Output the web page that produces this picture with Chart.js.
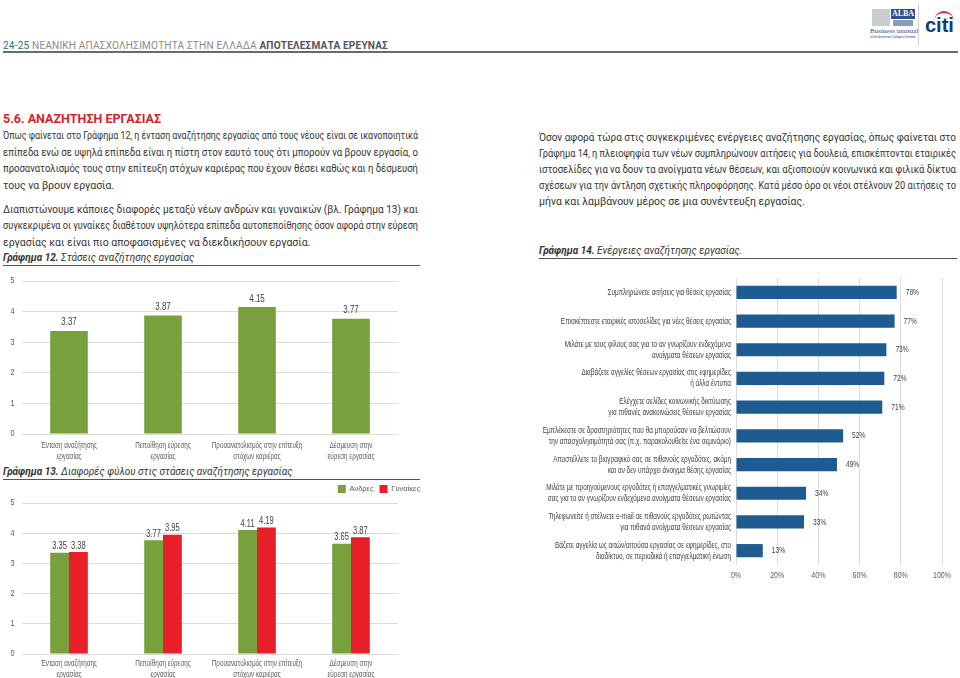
<!DOCTYPE html>
<html>
<head>
<meta charset="utf-8">
<script src="https://cdn.jsdelivr.net/npm/chart.js@4.4.1/dist/chart.umd.min.js"></script>
<style>
  html, body { margin: 0; padding: 0; background: #fff; }
  body { width: 960px; height: 678px; position: relative; overflow: hidden; }
  .t { position: absolute; white-space: nowrap; font-family: Roboto, "Noto Sans", sans-serif; font-size: 10.5px; line-height: 12px; color: #333; transform-origin: 0 50%; }
  .cap { font-style: italic; color: #333; }
  .cap b { font-weight: 700; }
  .rule { position: absolute; height: 1px; background: #555; }
  canvas { position: absolute; }
</style>
</head>
<body>

<!-- header -->
<div class="t" data-w="385" style="left:3px; top:39px; font-size:11px; line-height:14px; color:#8a8a8a; letter-spacing:0.2px;"><span style="color:#2d6b8a">24-25</span> ΝΕΑΝΙΚΗ ΑΠΑΣΧΟΛΗΣΙΜΟΤΗΤΑ ΣΤΗΝ ΕΛΛΑΔΑ <span style="color:#555; font-weight:700">ΑΠΟΤΕΛΕΣΜΑΤΑ ΕΡΕΥΝΑΣ</span></div>
<div class="rule" style="left:3px; top:51px; width:955px; height:1.5px; background:#6a6a6a;"></div>

<!-- logos -->
<div style="position:absolute; left:872px; top:9px; width:18px; height:17px; background:#c9ccd2;"></div>
<div style="position:absolute; left:891px; top:9px; width:24px; height:10px; background:#2f4f8f; color:#fff; font:bold 8px 'Liberation Serif'; text-align:center; line-height:10px;">ALBA</div>
<div style="position:absolute; left:893px; top:20px; width:20px; height:6px; background:#8d9bb8;"></div>
<div class="t" style="left:870px; top:27px; font-size:7px; line-height:8px; color:#2f4f8f; font-family:'Liberation Serif';">Business unusual</div>
<div class="t" style="left:870px; top:35px; font-size:3px; line-height:4px; color:#2f4f8f;">at the American College of Greece</div>
<div style="position:absolute; left:918px; top:4px; width:1px; height:42px; background:#cfcfcf;"></div>
<div style="position:absolute; left:934px; top:11px; width:20px; height:10px; border-top:2px solid #d7282f; border-radius:12px 12px 0 0; box-sizing:border-box;"></div>
<div class="t" style="left:925px; top:14px; font-size:20px; line-height:22px; color:#0f3d7a; font-weight:700; font-family:'Liberation Sans';">citi</div>

<!-- left column text -->
<div class="t" style="left:3px; top:112px; font-size:12.5px; line-height:14px; color:#d5232e; font-weight:700;">5.6. ΑΝΑΖΗΤΗΣΗ ΕΡΓΑΣΙΑΣ</div>
<div class="t j" data-w="415" style="left:3px; top:130px;">Όπως φαίνεται στο Γράφημα 12, η ένταση αναζήτησης εργασίας από τους νέους είναι σε ικανοποιητικά</div>
<div class="t j" data-w="415" style="left:3px; top:146.5px;">επίπεδα ενώ σε υψηλά επίπεδα είναι η πίστη στον εαυτό τους ότι μπορούν να βρουν εργασία, ο</div>
<div class="t j" data-w="415" style="left:3px; top:163px;">προσανατολισμός τους στην επίτευξη στόχων καριέρας που έχουν θέσει καθώς και η δέσμευσή</div>
<div class="t" data-w="415" style="left:3px; top:179.5px;">τους να βρουν εργασία.</div>

<div class="t j" data-w="415" style="left:3px; top:203.5px;">Διαπιστώνουμε κάποιες διαφορές μεταξύ νέων ανδρών και γυναικών (βλ. Γράφημα 13) και</div>
<div class="t j" data-w="415" style="left:3px; top:220px;">συγκεκριμένα οι γυναίκες διαθέτουν υψηλότερα επίπεδα αυτοπεποίθησης όσον αφορά στην εύρεση</div>
<div class="t" data-w="415" style="left:3px; top:236.5px;">εργασίας και είναι πιο αποφασισμένες να διεκδικήσουν εργασία.</div>

<div class="t cap" style="left:3px; top:252px; font-size:10px;"><b>Γράφημα 12.</b> Στάσεις αναζήτησης εργασίας</div>
<div class="rule" style="left:3px; top:265px; width:417px;"></div>

<div class="t cap" style="left:3px; top:466px; font-size:10px;"><b>Γράφημα 13.</b> Διαφορές φύλου στις στάσεις αναζήτησης εργασίας</div>
<div class="rule" style="left:3px; top:479px; width:417px;"></div>

<!-- right column text -->
<div class="t j" data-w="417" style="left:539px; top:131.5px;">Όσον αφορά τώρα στις συγκεκριμένες ενέργειες αναζήτησης εργασίας, όπως φαίνεται στο</div>
<div class="t j" data-w="417" style="left:539px; top:148px;">Γράφημα 14, η πλειοψηφία των νέων συμπληρώνουν αιτήσεις για δουλειά, επισκέπτονται εταιρικές</div>
<div class="t j" data-w="417" style="left:539px; top:164px;">ιστοσελίδες για να δουν τα ανοίγματα νέων θέσεων, και αξιοποιούν κοινωνικά και φιλικά δίκτυα</div>
<div class="t j" data-w="417" style="left:539px; top:180px;">σχέσεων για την άντληση σχετικής πληροφόρησης. Κατά μέσο όρο οι νέοι στέλνουν 20 αιτήσεις το</div>
<div class="t" data-w="417" style="left:539px; top:196px;">μήνα και λαμβάνουν μέρος σε μια συνέντευξη εργασίας.</div>

<div class="t cap" style="left:539px; top:245px; font-size:10px;"><b>Γράφημα 14.</b> Ενέργειες αναζήτησης εργασίας.</div>
<div class="rule" style="left:539px; top:258px; width:418px;"></div>

<canvas id="chart12" width="420" height="194" style="left:0px; top:270px;"></canvas>
<canvas id="chart13" width="426" height="200" style="left:0px; top:478px;"></canvas>
<canvas id="chart14" width="430" height="315" style="left:530px; top:268px;"></canvas>

<script>
// --- data ---
const attitudeLabels = [
  ['Ένταση αναζήτησης', 'εργασίας'],
  ['Πεποίθηση εύρεσης', 'εργασίας'],
  ['Προσανατολισμός στην επίτευξη', 'στόχων καριέρας'],
  ['Δέσμευση στην', 'εύρεση εργασίας']
];
const overallScores = [3.37, 3.87, 4.15, 3.77];
const menScores = [3.35, 3.77, 4.11, 3.65];
const womenScores = [3.38, 3.95, 4.19, 3.87];
const genderNames = ['Ανδρες', 'Γυναίκες'];

const actionLabels = [
  'Συμπληρώνετε αιτήσεις για θέσεις εργασίας',
  'Επισκέπτεστε εταιρικές ιστοσελίδες για νέες θέσεις εργασίας',
  ['Μιλάτε με τους φίλους σας για το αν γνωρίζουν ενδεχόμενα', 'ανοίγματα θέσεων εργασίας'],
  ['Διαβάζετε αγγελίες θέσεων εργασίας στις εφημερίδες', 'ή άλλα έντυπα'],
  ['Ελέγχετε σελίδες κοινωνικής δικτύωσης', 'για πιθανές ανακοινώσεις θέσεων εργασίας'],
  ['Εμπλέκεστε σε δραστηριότητες που θα μπορούσαν να βελτιώσουν', 'την απασχολησιμότητά σας (π.χ. παρακολουθείτε ένα σεμινάριο)'],
  ['Αποστέλλετε το βιογραφικό σας σε πιθανούς εργοδότες, ακόμη', 'και αν δεν υπάρχει άνοιγμα θέσης εργασίας'],
  ['Μιλάτε με προηγούμενους εργοδότες ή επαγγελματικές γνωριμίες', 'σας για το αν γνωρίζουν ενδεχόμενα ανοίγματα θέσεων εργασίας'],
  ['Τηλεφωνείτε ή στέλνετε e-mail σε πιθανούς εργοδότες ρωτώντας', 'για πιθανά ανοίγματα θέσεων εργασίας'],
  ['Βάζετε αγγελία ως αιτών/αιτούσα εργασίας σε εφημερίδες, στο', 'διαδίκτυο, σε περιοδικά ή επαγγελματική ένωση']
];
const actionShares = [78, 77, 73, 72, 71, 52, 49, 34, 33, 13];

const GREEN = '#78a03c';
const RED = '#e81e28';
const BLUE = '#1d5b91';
const FONT = '"Liberation Sans", Arial, sans-serif';

// fit text lines to their column width
document.querySelectorAll('.t[data-w]').forEach(el => {
  const W = +el.dataset.w;
  const w = el.getBoundingClientRect().width;
  if (w > W) {
    el.style.transform = 'scaleX(' + (W / w) + ')';
  } else if (el.classList.contains('j')) {
    const n = (el.textContent.match(/ /g) || []).length;
    if (n) el.style.wordSpacing = ((W - w) / n) + 'px';
  }
});

// the chart text in the original is a narrow face: draw it squeezed
function squeezedText(ctx, txt, x, y, sx) {
  ctx.save();
  ctx.translate(x, y);
  ctx.scale(sx, 1);
  ctx.fillText(txt, 0, 0);
  ctx.restore();
}

// axis labels, placed with the library's own tick pixels
function squeezeTicks(axes) {
  return {
    id: 'squeezeTicks',
    afterDraw(chart) {
      const ctx = chart.ctx;
      ctx.save();
      axes.forEach(o => {
        const scale = chart.scales[o.id];
        ctx.font = o.size + 'px ' + FONT;
        ctx.fillStyle = o.color;
        ctx.textBaseline = 'middle';
        scale.ticks.forEach((tick, i) => {
          const lines = [].concat(tick.label);
          const p = scale.getPixelForTick(i);
          lines.forEach((ln, k) => {
            if (scale.isHorizontal()) {
              ctx.textAlign = 'center';
              squeezedText(ctx, ln, p, scale.top + o.pad + k * o.lh, o.sx);
            } else {
              ctx.textAlign = 'right';
              squeezedText(ctx, ln, scale.right - o.pad, p + (k - (lines.length - 1) / 2) * o.lh, o.sx);
            }
          });
        });
      });
      ctx.restore();
    }
  };
}

// value labels drawn from the bar elements
const valueLabels = {
  id: 'valueLabels',
  afterDatasetsDraw(chart, args, opts) {
    const ctx = chart.ctx;
    ctx.save();
    ctx.font = opts.font;
    ctx.fillStyle = opts.color;
    chart.data.datasets.forEach((ds, i) => {
      chart.getDatasetMeta(i).data.forEach((bar, j) => {
        const v = ds.data[j];
        if (chart.options.indexAxis === 'y') {
          ctx.textAlign = 'left';
          ctx.textBaseline = 'middle';
          squeezedText(ctx, v + '%', bar.x + opts.offset, bar.y, opts.sx);
        } else {
          ctx.textAlign = 'center';
          ctx.textBaseline = 'bottom';
          squeezedText(ctx, v.toFixed(2), bar.x, bar.y - opts.offset, opts.sx);
        }
      });
    });
    ctx.restore();
  }
};

const scoreY = { id: 'y', size: 9, lh: 0, pad: 7.5, sx: 0.8, color: '#595959' };

function scoreScales(xHeight) {
  return {
    x: {
      grid: { display: false },
      border: { display: false },
      ticks: { display: false, autoSkip: false },
      afterFit(s) { s.height = xHeight; }
    },
    y: {
      min: 0, max: 5,
      ticks: { display: false, stepSize: 1 },
      grid: { color: '#dcdcdc', drawTicks: false },
      border: { display: false },
      afterFit(s) { s.width = 22; }
    }
  };
}

new Chart(document.getElementById('chart12'), {
  type: 'bar',
  data: {
    labels: attitudeLabels,
    datasets: [{ data: overallScores, backgroundColor: GREEN, barPercentage: 0.4, categoryPercentage: 1 }]
  },
  options: {
    responsive: false,
    animation: false,
    layout: { padding: { top: 11, right: 22, left: 0, bottom: 0 } },
    plugins: {
      legend: { display: false },
      tooltip: { enabled: false },
      valueLabels: { font: '11px ' + FONT, color: '#404040', offset: 3, sx: 0.72 }
    },
    scales: scoreScales(30)
  },
  plugins: [valueLabels, squeezeTicks([
    { id: 'x', size: 8.5, lh: 11.5, pad: 11.5, sx: 0.74, color: '#595959' },
    scoreY
  ])]
});

const s13 = scoreScales(24);
s13.y2 = {
  position: 'right',
  grid: { display: false },
  border: { display: false },
  ticks: { display: false },
  afterFit(s) { s.width = 28; }
};

new Chart(document.getElementById('chart13'), {
  type: 'bar',
  data: {
    labels: attitudeLabels,
    datasets: [
      { label: genderNames[0], data: menScores, backgroundColor: GREEN, barPercentage: 1, categoryPercentage: 0.4 },
      { label: genderNames[1], data: womenScores, backgroundColor: RED, barPercentage: 1, categoryPercentage: 0.4 }
    ]
  },
  options: {
    responsive: false,
    animation: false,
    layout: { padding: { top: 1, right: 0, left: 0, bottom: 0 } },
    plugins: {
      legend: {
        position: 'top', align: 'end',
        labels: { boxWidth: 8, boxHeight: 8, padding: 6, font: { family: FONT, size: 7.5 }, color: '#595959' }
      },
      tooltip: { enabled: false },
      valueLabels: { font: '10.5px ' + FONT, color: '#404040', offset: 1, sx: 0.72 }
    },
    scales: s13
  },
  plugins: [valueLabels, squeezeTicks([
    { id: 'x', size: 8.5, lh: 11, pad: 9.5, sx: 0.74, color: '#595959' },
    scoreY
  ])]
});

new Chart(document.getElementById('chart14'), {
  type: 'bar',
  data: {
    labels: actionLabels,
    datasets: [{ data: actionShares, backgroundColor: BLUE, barPercentage: 0.46, categoryPercentage: 1 }]
  },
  options: {
    indexAxis: 'y',
    responsive: false,
    animation: false,
    layout: { padding: { top: 10, right: 18, left: 0, bottom: 0 } },
    plugins: {
      legend: { display: false },
      tooltip: { enabled: false },
      valueLabels: { font: '9.5px ' + FONT, color: '#404040', offset: 9, sx: 0.7 }
    },
    scales: {
      x: {
        min: 0, max: 100,
        ticks: { display: false, stepSize: 20, callback: v => v + '%' },
        grid: { color: '#dcdcdc', drawTicks: false },
        border: { display: false },
        afterFit(s) { s.height = 18; }
      },
      y: {
        grid: { display: false },
        border: { display: false },
        ticks: { display: false, autoSkip: false },
        afterFit(s) { s.width = 206; }
      }
    }
  },
  plugins: [valueLabels, squeezeTicks([
    { id: 'x', size: 9, lh: 0, pad: 10.5, sx: 0.78, color: '#595959' },
    { id: 'y', size: 9, lh: 11, pad: 5, sx: 0.71, color: '#404040' }
  ])]
});
</script>
</body>
</html>
